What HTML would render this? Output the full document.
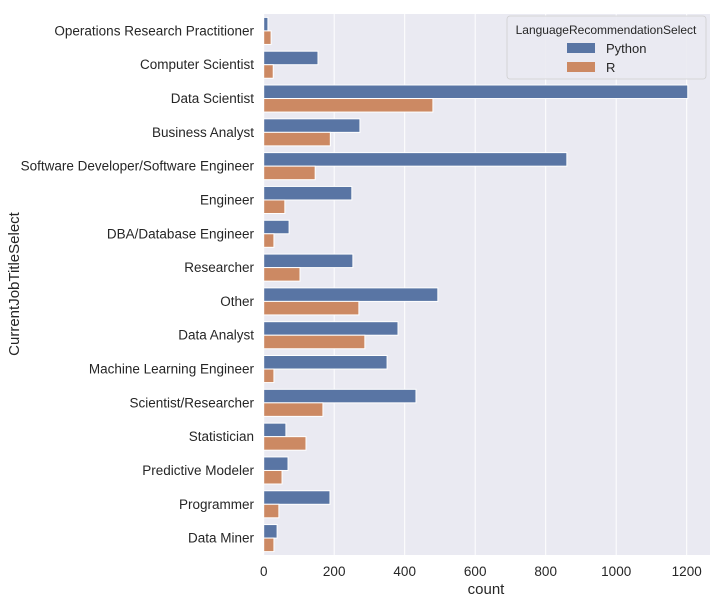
<!DOCTYPE html>
<html><head><meta charset="utf-8"><style>
body{margin:0;background:#fff;}
svg text{font-family:"Liberation Sans",sans-serif;fill:#262626;}
</style></head><body>
<svg id="chart" width="723" height="603">
<rect x="263.7" y="14" width="446.3" height="541" fill="#eaeaf2"/>
<g id="grid"></g><g id="bars"></g><g id="yticks"></g><g id="xticks"></g>
<text x="486" y="594" font-size="15" text-anchor="middle">count</text>
<text transform="translate(19,284) rotate(-90)" font-size="15" text-anchor="middle">CurrentJobTitleSelect</text>
<g>
<rect x="507" y="16" width="199" height="63" rx="3" fill="#eaeaf2" stroke="#cccccc" stroke-width="0.8" opacity="0.9"/>
<text x="606" y="34" font-size="12" text-anchor="middle">LanguageRecommendationSelect</text>
<rect x="567" y="43" width="28" height="10" fill="#5975a4"/>
<text x="606" y="53" font-size="13">Python</text>
<rect x="567" y="62" width="28" height="10" fill="#cc8963"/>
<text x="606" y="72" font-size="13">R</text>
</g>
</svg>
<script>
const categories=["Operations Research Practitioner","Computer Scientist","Data Scientist","Business Analyst","Software Developer/Software Engineer","Engineer","DBA/Database Engineer","Researcher","Other","Data Analyst","Machine Learning Engineer","Scientist/Researcher","Statistician","Predictive Modeler","Programmer","Data Miner"];
const pythonValues=[12,154,1203,273,860,250,72,253,494,381,350,432,63,69,188,38];
const rValues=[21,27,480,189,146,60,29,103,270,287,29,168,120,52,43,29];
const xTicks=[0,200,400,600,800,1000,1200];
const NS="http://www.w3.org/2000/svg";
const x0=263.7,kx=0.3525,plotTop=14,band=541/categories.length;
const xs=v=>x0+v*kx;
const ys=i=>plotTop+i*band;
function mk(tag,attrs,parent){const e=document.createElementNS(NS,tag);for(const k in attrs)e.setAttribute(k,attrs[k]);document.getElementById(parent).appendChild(e);return e;}
xTicks.forEach(t=>{
 const l=mk('line',{x1:xs(t),x2:xs(t),y1:plotTop,y2:555,stroke:'#fff','stroke-width':1},'grid');
 
 
 const tx=mk('text',{x:xs(t),y:576,'font-size':13.5,'text-anchor':'middle'},'xticks');
 tx.textContent=t;
 
 
});
const bw=band*0.8/2;
categories.forEach((c,i)=>{
 const y=ys(i)+band*0.1;
 const b1=mk('rect',{x:x0,y:y,width:pythonValues[i]*kx,height:bw,fill:'#5975a4',stroke:'#fff','stroke-width':1},'bars');
 
 
 const b2=mk('rect',{x:x0,y:y+bw,width:rValues[i]*kx,height:bw,fill:'#cc8963',stroke:'#fff','stroke-width':1},'bars');
 
 
 const t=mk('text',{x:254,y:ys(i)+band/2+4.5,'font-size':13.5,'text-anchor':'end'},'yticks');
 t.textContent=c;
 
 
});
</script>
</body></html>
